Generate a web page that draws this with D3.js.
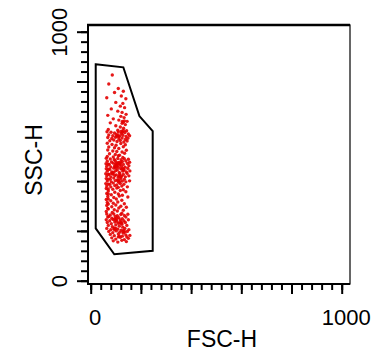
<!DOCTYPE html>
<html>
<head>
<meta charset="utf-8">
<script src="https://cdn.jsdelivr.net/npm/d3@7"></script>
<style>
  html, body { margin: 0; padding: 0; background: #fff; }
  svg { display: block; font-family: "Liberation Sans", Arial, sans-serif; }
</style>
</head>
<body>
<div id="chart"></div>
<script>
// FSC-H / SSC-H dot plot with a polygon gate

const xLabel = "FSC-H";
const yLabel = "SSC-H";
const majorTicks = [0, 200, 400, 600, 800, 1000];
const labelledTicks = [0, 1000];

// gate vertices (FSC-H, SSC-H)
const gate = [
  [20, 869], [130, 857], [194, 661], [247, 601],
  [247, 120], [94, 106], [20, 210]
];

// events (FSC-H, SSC-H)
const events = [
  [86,826],[72,790],[110,772],[95,756],[130,761],[64,735],[122,742],[140,731],[100,716],[128,712],
  [118,701],[82,690],[135,695],[108,681],[125,676],[141,668],[68,664],[120,660],[133,655],[90,650],
  [112,645],[145,640],[78,634],[125,632],[138,627],[100,622],[118,617],[131,612],[70,607],[108,604],
  [143,602],[65,598],[81,596],[95,593],[110,597],[122,591],[136,595],[150,589],[72,585],[88,582],
  [102,587],[115,581],[128,584],[141,579],[155,582],[68,575],[84,571],[99,576],[112,569],[125,573],
  [138,567],[148,572],[76,562],[92,565],[105,559],[118,563],[132,557],[145,561],[66,552],[85,547],
  [101,544],[120,551],[138,546],[72,537],[95,534],[112,531],[130,538],[68,525],[88,521],[104,519],
  [125,517],[142,524],[75,510],[98,507],[115,504],[135,512],[66,499],[90,497],[110,502],[128,495],
  [62,492],[78,489],[94,487],[108,491],[121,486],[134,490],[150,488],[66,480],[83,477],[98,482],
  [112,475],[126,479],[140,481],[155,476],[61,470],[74,467],[90,472],[104,465],[118,470],[130,467],
  [146,471],[64,460],[80,457],[96,462],[110,455],[122,460],[137,456],[152,462],[62,450],[76,447],
  [92,452],[106,445],[120,450],[132,447],[148,451],[66,440],[84,437],[100,442],[114,435],[128,440],
  [142,437],[156,441],[60,430],[74,427],[88,432],[102,425],[116,430],[130,427],[145,431],[64,420],
  [80,417],[96,422],[110,415],[124,420],[138,417],[152,421],[62,410],[78,407],[92,412],[106,405],
  [120,410],[134,407],[66,400],[82,397],[98,402],[112,395],[126,400],[140,397],[155,401],[60,390],
  [76,387],[90,392],[104,385],[118,390],[132,387],[64,380],[80,377],[96,382],[110,375],[124,380],
  [146,377],[62,370],[88,367],[104,372],[130,365],[70,360],[96,355],[118,362],[140,357],[64,350],
  [82,345],[110,348],[126,343],[68,338],[92,334],[114,340],[148,336],[62,326],[80,321],[102,328],
  [124,323],[66,314],[90,311],[108,316],[134,309],[64,302],[84,297],[100,304],[120,299],[142,295],
  [68,290],[94,285],[112,292],[130,283],[62,278],[86,274],[106,280],[124,271],[64,268],[78,264],
  [92,268],[106,261],[120,266],[134,262],[148,267],[68,256],[84,251],[98,258],[112,253],[126,249],
  [140,256],[62,245],[76,241],[90,246],[104,239],[118,244],[132,241],[150,245],[66,234],[82,229],
  [96,236],[110,231],[124,227],[138,234],[70,222],[86,217],[100,224],[114,219],[128,215],[144,222],
  [64,210],[80,205],[94,212],[108,207],[122,203],[136,210],[152,205],[72,198],[88,193],[102,200],
  [116,195],[130,191],[146,198],[78,186],[94,181],[110,188],[126,179],[140,184],[156,182],[84,172],
  [100,167],[118,174],[134,165],[150,170],[90,160],[108,155],[124,162],[142,157],
  // clumps
  [126,640],[130,636],[134,642],[122,600],[126,596],[130,603],[104,580],[108,584],[112,578],
  [100,470],[104,474],[108,468],[112,472],[116,466],[120,476],[96,458],[100,454],[104,460],
  [124,448],[128,452],[132,444],[84,432],[88,428],[92,436],[112,420],[116,424],[120,416],
  [108,400],[112,404],[116,398],[70,468],[70,448],[70,428],[70,408],[70,388],[70,368],[70,348],
  [70,328],[70,308],[70,288],[72,258],[96,248],[100,244],[104,250],[116,232],[120,236],[124,232],
  [92,208],[96,204],[100,210],[128,198],[132,202],[136,196],[110,176],[114,180],[144,176]
];

const W = 372, H = 353;

const x = d3.scaleLinear().domain([0, 1000]).range([90.7, 341.7]);
const y = d3.scaleLinear().domain([0, 1000]).range([280.7, 31.7]);

const svg = d3.select("#chart").append("svg")
  .attr("width", W)
  .attr("height", H);

// frame
svg.append("rect")
  .attr("x", 88).attr("y", 25)
  .attr("width", 262).attr("height", 259)
  .attr("fill", "none")
  .attr("stroke", "#000")
  .attr("stroke-width", 1.2);
svg.append("line")
  .attr("x1", 87).attr("x2", 350)
  .attr("y1", 25).attr("y2", 25)
  .attr("stroke", "#000")
  .attr("stroke-width", 2.5);

// dots
svg.append("g")
  .selectAll("circle")
  .data(events)
  .enter()
  .append("circle")
  .attr("cx", d => x(d[0]))
  .attr("cy", d => y(d[1]))
  .attr("r", 1.7)
  .attr("fill", "#e30000")
  .attr("fill-opacity", 0.9);

// gate
svg.append("path")
  .datum(gate)
  .attr("d", d => "M" + d.map(p => [x(p[0]), y(p[1])].join(",")).join("L") + "Z")
  .attr("fill", "none")
  .attr("stroke", "#000")
  .attr("stroke-width", 2)
  .attr("stroke-linejoin", "miter");

const fmt = d => labelledTicks.includes(d) ? d : "";

// y axis: minor then major
const yMinor = svg.append("g")
  .attr("transform", "translate(88,0)")
  .call(d3.axisLeft(y).tickValues(d3.range(0, 1001, 40)).tickSize(7).tickFormat(""));
yMinor.select(".domain").remove();
yMinor.selectAll("line").attr("stroke-width", 2);

const yMajor = svg.append("g")
  .attr("transform", "translate(88,0)")
  .call(d3.axisLeft(y).tickValues(majorTicks).tickSize(11).tickFormat(fmt));
yMajor.select(".domain").remove();
yMajor.selectAll("line").attr("stroke-width", 2);
yMajor.selectAll("text")
  .attr("x", null).attr("dy", null)
  .attr("transform", "translate(-21,0) rotate(-90)")
  .attr("text-anchor", "middle")
  .attr("font-size", 22)
  .attr("font-family", "Liberation Sans, Arial, sans-serif")
  .attr("fill", "#000");

svg.append("line")
  .attr("x1", 88).attr("x2", 88)
  .attr("y1", 25).attr("y2", 285)
  .attr("stroke", "#000")
  .attr("stroke-width", 2);

// x axis: minor then major
const xMinor = svg.append("g")
  .attr("transform", "translate(0,284)")
  .call(d3.axisBottom(x).tickValues(d3.range(0, 1001, 40)).tickSize(6).tickFormat(""));
xMinor.select(".domain").remove();
xMinor.selectAll("line").attr("stroke-width", 2);

const xMajor = svg.append("g")
  .attr("transform", "translate(0,284)")
  .call(d3.axisBottom(x).tickValues(majorTicks).tickSize(10).tickFormat(fmt));
xMajor.select(".domain").remove();
xMajor.selectAll("line").attr("stroke-width", 2);
xMajor.selectAll("text")
  .attr("y", 41).attr("dy", null)
  .attr("x", 4)
  .attr("font-size", 22)
  .attr("font-family", "Liberation Sans, Arial, sans-serif")
  .attr("fill", "#000");

svg.append("line")
  .attr("x1", 87).attr("x2", 350)
  .attr("y1", 284).attr("y2", 284)
  .attr("stroke", "#000")
  .attr("stroke-width", 2);

// axis titles
svg.append("text")
  .attr("x", 222).attr("y", 347)
  .attr("text-anchor", "middle")
  .attr("font-size", 23)
  .text(xLabel);

svg.append("text")
  .attr("transform", "translate(42,160) rotate(-90)")
  .attr("text-anchor", "middle")
  .attr("font-size", 23)
  .text(yLabel);
</script>
</body>
</html>
